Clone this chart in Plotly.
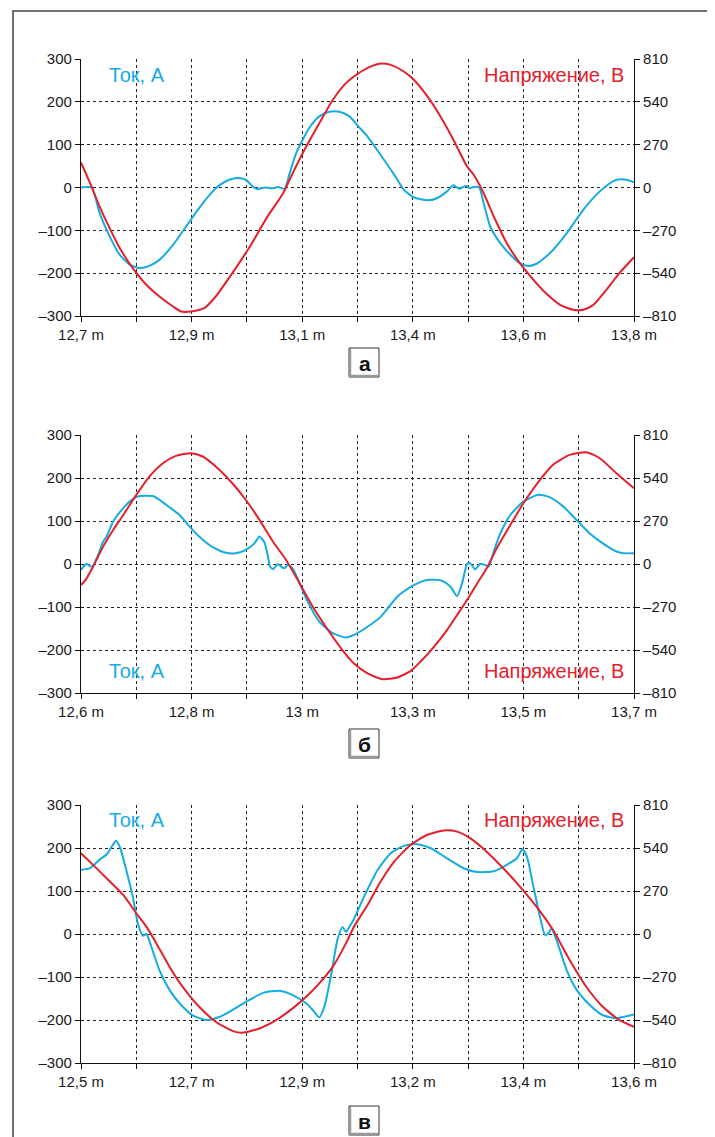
import plotly.graph_objects as go

# ---------------- data ----------------
# Panel а
a_cur_x = [12.700, 12.721, 12.737, 12.757, 12.777, 12.797, 12.817, 12.836, 12.856, 12.883,
           12.909, 12.935, 12.962, 12.975, 12.995, 13.011, 13.028, 13.042, 13.052, 13.060,
           13.069, 13.080, 13.092, 13.105, 13.115, 13.128, 13.139, 13.154, 13.174, 13.194,
           13.214, 13.234, 13.253, 13.270, 13.296, 13.323, 13.342, 13.362, 13.389, 13.408,
           13.428, 13.441, 13.452, 13.466, 13.474, 13.481, 13.492, 13.501, 13.514, 13.534,
           13.554, 13.573, 13.590, 13.606, 13.633, 13.666, 13.699, 13.732, 13.752, 13.765,
           13.785, 13.800]
a_cur_y = [0, 0, -60, -114, -157, -180, -188, -183, -169, -134,
           -91, -48, -9, 5, 18, 22, 18, 2, -4, -1,
           0, -2, 1, -3, 33, 80, 107, 139, 166, 177,
           177, 166, 141, 119, 76, 30, -5, -23, -30, -25,
           -9, 5, -3, 4, -2, 1, 0, -37, -91, -130,
           -157, -177, -183, -178, -153, -107, -52, -9, 10, 18,
           18, 12]
a_vol_x = [12.700, 12.721, 12.737, 12.757, 12.777, 12.803, 12.830, 12.856, 12.883, 12.899,
           12.919, 12.945, 12.968, 13.001, 13.036, 13.069, 13.102, 13.121, 13.148, 13.174,
           13.201, 13.227, 13.243, 13.263, 13.293, 13.316, 13.342, 13.362, 13.389, 13.415,
           13.441, 13.468, 13.481, 13.501, 13.521, 13.547, 13.573, 13.600, 13.626, 13.653,
           13.679, 13.699, 13.719, 13.745, 13.771, 13.800]
a_vol_y = [158, 6, -120, -256, -382, -508, -613, -687, -750, -782,
           -782, -761, -687, -540, -372, -193, -36, 90, 258, 405,
           553, 658, 700, 742, 780, 773, 731, 679, 574, 448,
           300, 132, 80, -36, -183, -351, -477, -582, -670, -740,
           -771, -771, -740, -645, -540, -440]

# Panel б
b_cur_x = [12.600, 12.608, 12.612, 12.619, 12.624, 12.634, 12.644, 12.651, 12.664, 12.684,
           12.703, 12.717, 12.743, 12.756, 12.776, 12.796, 12.816, 12.835, 12.862, 12.888,
           12.908, 12.928, 12.945, 12.955, 12.965, 12.972, 12.976, 12.982, 12.992, 12.998,
           13.005, 13.011, 13.021, 13.035, 13.051, 13.074, 13.101, 13.127, 13.143, 13.170,
           13.196, 13.229, 13.242, 13.262, 13.289, 13.318, 13.335, 13.348, 13.358, 13.368,
           13.374, 13.384, 13.394, 13.404, 13.411, 13.421, 13.434, 13.454, 13.480, 13.510,
           13.533, 13.559, 13.586, 13.612, 13.638, 13.665, 13.678, 13.700]
b_cur_y = [-14, -2, 0, -6, -4, 21, 52, 64, 99, 130,
           151, 158, 158, 149, 132, 114, 87, 64, 39, 26,
           25, 33, 48, 64, 50, 17, -6, -12, 0, -6,
           -10, -2, -10, -45, -88, -134, -161, -171, -165, -146,
           -123, -76, -64, -49, -37, -39, -53, -75, -45, 0,
           2, -12, 0, -2, -6, 29, 71, 114, 145, 161,
           155, 134, 102, 71, 48, 29, 25, 25]
b_vol_x = [12.600, 12.608, 12.624, 12.644, 12.664, 12.684, 12.710, 12.736, 12.763, 12.789,
           12.819, 12.842, 12.868, 12.901, 12.928, 12.955, 12.982, 13.008, 13.035, 13.061,
           13.087, 13.120, 13.143, 13.170, 13.200, 13.229, 13.256, 13.275, 13.302, 13.328,
           13.348, 13.368, 13.388, 13.407, 13.427, 13.454, 13.480, 13.513, 13.539, 13.572,
           13.605, 13.632, 13.665, 13.700]
b_vol_y = [-132, -105, -17, 109, 214, 308, 434, 549, 633, 679,
           696, 675, 612, 507, 402, 277, 140, 25, -122, -268,
           -394, -541, -625, -687, -723, -713, -671, -614, -520, -415,
           -321, -226, -122, -27, 99, 245, 381, 528, 623, 685,
           702, 664, 570, 475]

# Panel в
c_cur_x = [12.500, 12.518, 12.537, 12.551, 12.561, 12.570, 12.578, 12.590, 12.603, 12.613,
           12.623, 12.630, 12.640, 12.656, 12.676, 12.696, 12.722, 12.749, 12.775, 12.801,
           12.828, 12.862, 12.895, 12.921, 12.948, 12.964, 12.974, 12.984, 12.997, 13.010,
           13.020, 13.027, 13.034, 13.043, 13.063, 13.090, 13.116, 13.142, 13.169, 13.195,
           13.228, 13.261, 13.288, 13.321, 13.347, 13.367, 13.378, 13.387, 13.400, 13.413,
           13.423, 13.430, 13.436, 13.446, 13.466, 13.486, 13.512, 13.538, 13.565, 13.578,
           13.600]
c_cur_y = [149, 153, 173, 185, 203, 217, 200, 149, 87, 25,
           -4, 0, -30, -84, -130, -161, -189, -200, -193, -177,
           -158, -137, -132, -142, -161, -181, -194, -169, -99, -14,
           16, 5, 17, 35, 87, 149, 188, 205, 209, 200,
           176, 153, 144, 146, 161, 176, 197, 180, 110, 40,
           -2, 2, 13, -14, -84, -130, -165, -189, -196, -193,
           -187]
c_vol_x = [12.500, 12.524, 12.551, 12.584, 12.610, 12.630, 12.650, 12.676, 12.702, 12.735,
           12.768, 12.801, 12.821, 12.855, 12.888, 12.921, 12.948, 12.974, 13.001, 13.027,
           13.043, 13.070, 13.096, 13.123, 13.156, 13.189, 13.222, 13.248, 13.274, 13.307,
           13.340, 13.373, 13.406, 13.439, 13.472, 13.505, 13.538, 13.571, 13.600]
c_vol_y = [507, 434, 350, 245, 130, 46, -59, -205, -331, -457,
           -551, -608, -620, -593, -541, -467, -394, -310, -205, -59,
           46, 182, 329, 455, 560, 623, 650, 643, 602, 517,
           413, 298, 172, 25, -163, -331, -457, -541, -583]

x_ranges = [(12.7, 13.8), (12.6, 13.7), (12.5, 13.6)]
x_labels = [["12,7 m", "12,9 m", "13,1 m", "13,4 m", "13,6 m", "13,8 m"],
            ["12,6 m", "12,8 m", "13 m", "13,3 m", "13,5 m", "13,7 m"],
            ["12,5 m", "12,7 m", "12,9 m", "13,2 m", "13,4 m", "13,6 m"]]
cur_ticks = [-300, -200, -100, 0, 100, 200, 300]
cur_ticktext = ["–300", "–200", "–100", "0", "100", "200", "300"]
vol_ticks = [-810, -540, -270, 0, 270, 540, 810]
vol_ticktext = ["–810", "–540", "–270", "0", "270", "540", "810"]
panel_letters = ["а", "б", "в"]
cur_label = "Ток, А"
vol_label = "Напряжение, В"

# ---------------- layout geometry (page pixels) ----------------
PAGE_OFF = 8                      # default body margin of the page
W, H = 715 - PAGE_OFF, 1137 - PAGE_OFF
PX0, PX1 = 81, 634
panel_tops = [59, 435, 805]
panel_bots = [316, 693, 1063]
label_y = [74.5, 671, 820]
box_tops = [348, 729, 1106]

CYAN = "#15ABE3"
RED = "#E3202B"
FONT = "Liberation Sans, Arial, sans-serif"

def px(x):
    return (x - PAGE_OFF) / W

def py(y):
    return 1 - (y - PAGE_OFF) / H

fig = go.Figure()
series = [(a_cur_x, a_cur_y, a_vol_x, a_vol_y),
          (b_cur_x, b_cur_y, b_vol_x, b_vol_y),
          (c_cur_x, c_cur_y, c_vol_x, c_vol_y)]

layout = dict(width=W, height=H, autosize=False, template="none",
              margin=dict(l=0, r=0, t=0, b=0, pad=0, autoexpand=False),
              paper_bgcolor="white", plot_bgcolor="white",
              showlegend=False, font=dict(family=FONT, size=15, color="#222"))

shapes = []
annotations = []
tickfont = dict(size=15, color="#1a1a1a", family=FONT)
for i, (cx, cy, vx, vy) in enumerate(series):
    xn = "x" if i == 0 else f"x{i+1}"
    yl = "y" if i == 0 else f"y{2*i+1}"
    yr = f"y{2*i+2}"
    fig.add_trace(go.Scatter(x=cx, y=cy, xaxis=xn, yaxis=yl, mode="lines",
                             line=dict(color=CYAN, width=2, shape="spline", smoothing=0.6)))
    fig.add_trace(go.Scatter(x=vx, y=vy, xaxis=xn, yaxis=yr, mode="lines",
                             line=dict(color=RED, width=2, shape="spline", smoothing=0.6)))
    x0, x1 = x_ranges[i]
    step = (x1 - x0) / 10
    tv = [x0 + k * step for k in range(11)]
    tt = [x_labels[i][k // 2] if k % 2 == 0 else "" for k in range(11)]
    ydom = [py(panel_bots[i]), py(panel_tops[i])]
    xkey = "xaxis" if i == 0 else f"xaxis{i+1}"
    ylkey = "yaxis" if i == 0 else f"yaxis{2*i+1}"
    yrkey = f"yaxis{2*i+2}"
    common = dict(showline=True, linecolor="#111", linewidth=1.2,
                  ticks="outside", ticklen=5, tickcolor="#111", tickwidth=1,
                  tickfont=tickfont, zeroline=False, fixedrange=True, automargin=False)
    layout[xkey] = dict(domain=[px(PX0), px(PX1)], range=[x0, x1], anchor=yl,
                        tickmode="array", tickvals=tv, ticktext=tt,
                        showgrid=True, gridcolor="#222", gridwidth=1, griddash="dot",
                        **common)
    layout[ylkey] = dict(domain=ydom, range=[-300, 300], anchor=xn,
                         tickmode="array", tickvals=cur_ticks, ticktext=cur_ticktext,
                         showgrid=True, gridcolor="#222", gridwidth=1, griddash="dot",
                         **common)
    layout[yrkey] = dict(range=[-810, 810], overlaying=yl, side="right", anchor=xn,
                         tickmode="array", tickvals=vol_ticks, ticktext=vol_ticktext,
                         showgrid=False, **common)
    annotations.append(dict(text=cur_label, xref="paper", yref="paper", x=px(107), y=py(label_y[i]),
                            xanchor="left", yanchor="middle", showarrow=False,
                            font=dict(size=20, color=CYAN, family=FONT)))
    annotations.append(dict(text=vol_label, xref="paper", yref="paper", x=px(626), y=py(label_y[i]),
                            xanchor="right", yanchor="middle", showarrow=False,
                            font=dict(size=20, color=RED, family=FONT)))
    # letter box
    bt = box_tops[i]
    shapes.append(dict(type="rect", xref="paper", yref="paper",
                       x0=px(349), x1=px(379), y0=py(bt + 29), y1=py(bt),
                       line=dict(color="#333", width=1), fillcolor="white", layer="above"))
    shapes.append(dict(type="line", xref="paper", yref="paper",
                       x0=px(350), x1=px(350), y0=py(bt + 29), y1=py(bt + 1),
                       line=dict(color="#999", width=2.5), layer="above"))
    shapes.append(dict(type="line", xref="paper", yref="paper",
                       x0=px(349), x1=px(378), y0=py(bt + 28), y1=py(bt + 28),
                       line=dict(color="#999", width=2.5), layer="above"))
    annotations.append(dict(text="<b>" + panel_letters[i] + "</b>", xref="paper", yref="paper",
                            x=px(364.5), y=py(bt + 15), xanchor="center", yanchor="middle",
                            showarrow=False, font=dict(size=21, color="#111", family=FONT)))

# outer frame
shapes.append(dict(type="rect", xref="paper", yref="paper",
                   x0=px(13), x1=px(710), y0=py(1160), y1=py(11),
                   line=dict(color="#444", width=1.5), layer="below"))

layout["shapes"] = shapes
layout["annotations"] = annotations
fig.update_layout(**layout)
fig.write_html("out.html", config={"displayModeBar": False})
